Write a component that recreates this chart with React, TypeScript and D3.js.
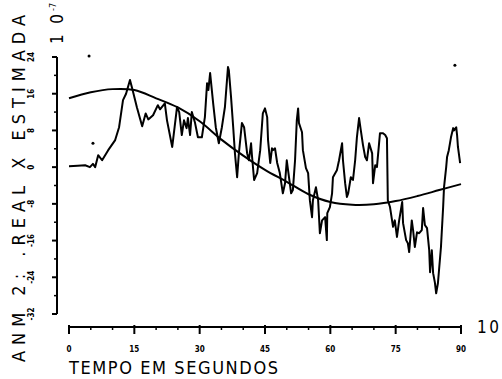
import React from "react";
import * as d3 from "d3";

// x ticks (seconds) and y ticks (units of 10^-7)
const xTicks = [0, 15, 30, 45, 60, 75, 90];
const xMinor = [5, 10, 20, 25, 35, 40, 50, 55, 65, 70, 80, 85];
const yTicks = [24, 16, 8, 0, -8, -16, -24, -32];
const yMinor = [20, 12, 4, -4, -12, -20, -28];

// real signal: [seconds, value]
const realT = [
  0, 2, 3.7, 4.8, 5.5, 6, 6.7, 7.6, 9, 10.6, 11.5, 12.4, 13.1, 14, 14.6, 15.6,
  16.8, 17.6, 18.2, 19.3, 20.4, 20.9, 22, 22.5, 23.7, 24.8, 25.3, 25.9, 26.4,
  27, 27.3, 27.8, 28.2, 28.9, 29.6, 30.5, 31.2, 31.7, 32, 32.4, 33.1, 33.7,
  34.4, 35.1, 35.8, 36.5, 36.7, 37.2, 37.7, 38.1, 38.6, 39, 39.7, 40.2, 40.9,
  41.3, 41.8, 42, 42.5, 43.2, 43.9, 44.5, 45, 45.5, 45.7, 46.2, 46.6, 46.8,
  47.3, 47.8, 48.4, 49.1, 49.6, 50, 50.3, 51, 51.4, 51.9, 52.3, 52.6, 52.8,
  53.5, 53.7, 54.4, 54.9, 55.3, 55.8, 56, 56.7, 57.2, 57.6, 58.1, 58.8, 59.2,
  59.3, 59.9, 60.4, 60.6, 61.5, 62, 62.7, 62.9, 63.4, 63.8, 64.1, 64.7, 65.2,
  65.7, 66.1, 66.6, 67, 67.5, 68, 68.4, 68.9, 69.6, 69.8, 70.3, 70.7, 71.4,
  72.1, 72.6, 73, 73.2, 73.7, 74.4, 74.8, 75.3, 75.8, 76.5, 76.7, 77.4, 77.8,
  78.1, 78.7, 79, 79.4, 79.9, 80.4, 81, 81.3, 81.7, 82.2, 82.7, 82.9, 83.3,
  83.6, 84, 84.3, 84.7, 85.4, 85.9, 86.1, 86.6, 86.8, 87.2, 87.7, 88.2, 88.4,
  88.9, 89.1, 89.3, 89.8,
];
const realV = [
  0.2, 0.3, 0.4, 0, 0.7, 0, 2.6, 1.5, 3.7, 5.9, 8.7, 14.6, 16, 19, 16.8, 13,
  8.9, 11.7, 10.4, 11.3, 13.5, 12.6, 13.9, 10.2, 4.4, 13.1, 12, 7, 10.2, 8.5,
  10.7, 7, 12, 9.8, 6.5, 6.5, 10.9, 18.3, 16.8, 20.5, 13.9, 8.7, 5.2, 8.7,
  13.1, 21.8, 21.1, 15.3, 8.7, 3, -2.2, 3, 9.6, 8.7, 3, 1.5, 5.2, 2.6, -2.8,
  -1.3, 3.7, 11.7, 12.8, 10.9, 5.9, 0.9, 4.1, 3.7, 4.1, 0.9, -1.3, -5.7, -3.5,
  1.5, -0.7, -5.7, -5, 1.5, 10.2, 12.8, 9.6, 7.6, 3.7, -0.2, -1.3, -7.2, -10.9,
  -7.2, -4.4, -7.2, -14.4, -11.6, -10.9, -15.9, -10, -8.7, -5.7, -2.2, -0.7,
  1.5, 5.2, 1.5, -3.5, -6.5, -5.7, -2.2, -2.8, 1.5, 6.5, 10.7, 8, 4.8, 2.2,
  1.5, 5.2, 3, -3.5, 0.4, 0, 7.4, 7.4, 7, 6.3, -7.2, -8.7, -13, -11.6, -15.2,
  -11.6, -7.6, -12.2, -15.9, -16.6, -18.5, -11.6, -13.7, -17.4, -14.2, -14.4,
  -13.7, -8.9, -12.6, -13.3, -18.1, -22.9, -18.1, -23.1, -25.1, -27.5, -25.3,
  -17.4, -8.7, -4.4, 0, 2.2, 3.7, 6.5, 8.5, 8, 8.7, 7, 4.4, 0.9,
];

// estimated (smooth) curve
const estT = [0, 5, 10, 15, 20, 25, 30, 35, 40, 45, 50, 55, 60, 65, 70, 75, 80, 85, 90];
const estV = [15, 16.3, 17, 16.8, 15, 13, 10, 6, 2.5, -0.6, -3.2, -5.9, -7.6, -8.2, -8.1, -7.4, -6.3, -5, -3.7];

// scan specks
const speckT = [4.6, 5.5, 88.6];
const speckV = [24.2, 5.2, 22.2];

const W = 502;
const H = 379;
const FONT = "'DejaVu Sans Condensed', 'DejaVu Sans', sans-serif";

export default function App() {
  const x = d3.scaleLinear().domain([0, 90]).range([69, 461]);
  const y = d3.scaleLinear().domain([-32, 24]).range([314, 57]);
  const xAxisY = 327;
  const yAxisX = 57;

  const real = realT.map((t, i) => [t, realV[i]] as [number, number]);
  const est = estT.map((t, i) => [t, estV[i]] as [number, number]);

  const line = d3
    .line<[number, number]>()
    .x((d) => x(d[0]))
    .y((d) => y(d[1]));
  const smooth = line.curve(d3.curveCatmullRom)(est) || "";
  const jagged = d3
    .line<[number, number]>()
    .x((d) => x(d[0]))
    .y((d) => y(d[1]))(real) || "";

  return (
    <svg
      width={W}
      height={H}
      style={{ position: "absolute", left: 0, top: 0, background: "#fff" }}
      fontFamily={FONT}
    >
      {/* y axis */}
      <line x1={yAxisX} x2={yAxisX} y1={y(24)} y2={y(-32)} stroke="#000" strokeWidth={2} />
      {yTicks.map((v) => (
        <g key={v}>
          <line x1={yAxisX - 5} x2={yAxisX} y1={y(v)} y2={y(v)} stroke="#000" strokeWidth={2} />
          <text
            transform={`translate(34,${y(v)}) rotate(-90)`}
            textAnchor="middle"
            fontSize={8}
            fontWeight="bold"
          >
            {v}
          </text>
        </g>
      ))}
      {yMinor.map((v) => (
        <line key={v} x1={yAxisX - 3} x2={yAxisX} y1={y(v)} y2={y(v)} stroke="#000" strokeWidth={1.5} />
      ))}

      {/* x axis */}
      <line x1={x(0)} x2={x(90)} y1={xAxisY} y2={xAxisY} stroke="#000" strokeWidth={2} />
      {xTicks.map((t) => (
        <g key={t}>
          <line x1={x(t)} x2={x(t)} y1={xAxisY - 2} y2={xAxisY + 7} stroke="#000" strokeWidth={2} />
          <text x={x(t)} y={352} textAnchor="middle" fontSize={8} fontWeight="bold">
            {t}
          </text>
        </g>
      ))}
      {xMinor.map((t) => (
        <line key={t} x1={x(t)} x2={x(t)} y1={xAxisY} y2={xAxisY + 3} stroke="#000" strokeWidth={1.5} />
      ))}

      {/* curves */}
      <path d={smooth} fill="none" stroke="#000" strokeWidth={2} />
      <path d={jagged} fill="none" stroke="#000" strokeWidth={2} strokeLinejoin="round" />
      {speckT.map((t, i) => (
        <circle key={i} cx={x(t)} cy={y(speckV[i])} r={1.5} fill="#000" />
      ))}

      {/* titles */}
      <text
        transform="translate(25,362) rotate(-90)"
        fontSize={18}
        textLength={347}
        lengthAdjust="spacing"
      >
        ANM 2:  .REAL X ESTIMADA
      </text>
      <text transform="translate(63,44) rotate(-90)" fontSize={17} textLength={30} lengthAdjust="spacing">
        10
      </text>
      <text transform="translate(56,11) rotate(-90)" fontSize={9}>
        -7
      </text>
      <text x={477} y={333} fontSize={17} textLength={22} lengthAdjust="spacing">
        10
      </text>
      <text x={69} y={374} fontSize={18} textLength={209} lengthAdjust="spacing">
        TEMPO EM SEGUNDOS
      </text>
    </svg>
  );
}
